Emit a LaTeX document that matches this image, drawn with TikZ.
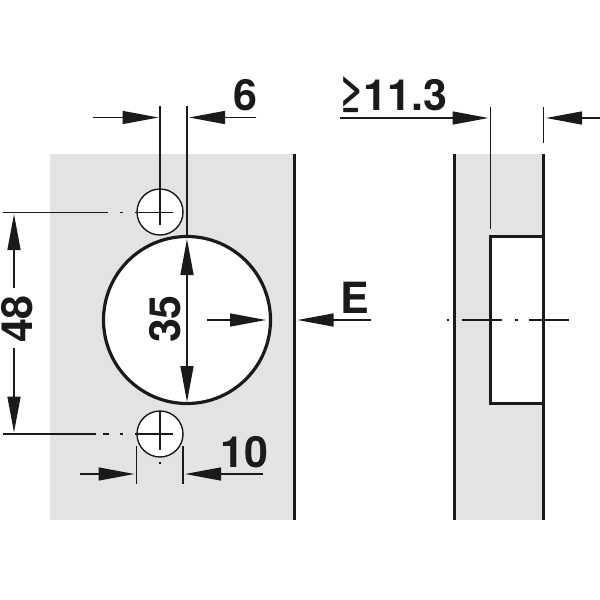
\documentclass[tikz,border=0pt]{standalone}
\usepackage{fontspec}
\setmainfont{TeX Gyre Heros}
\usetikzlibrary{arrows.meta}
\definecolor{plategray}{HTML}{E1E3E5}
\definecolor{inkblack}{HTML}{1A1A1A}

\begin{document}
\begin{tikzpicture}[x=0.5pt,y=-0.5pt,>={Triangle[length=18pt,width=6.5pt]},
                    color=inkblack,line width=0.7pt]
  \tikzset{
    wall/.style={line width=1.6pt},
    cup/.style={line width=1.3pt},
    dimline/.style={->},
    dimtext/.style={font=\bfseries\fontsize{21.5}{24}\selectfont,inner sep=0pt}
  }
  \useasboundingbox (0,0) rectangle (600,600);

  % plates
  \fill[plategray] (50,154) rectangle (294,520);
  \fill[plategray] (454,154) rectangle (544,520);
  \fill[white] (491,236) rectangle (544,403);

  % holes
  \draw[wall,fill=white] (187,320) circle (83.5);
  \node[draw,circle,fill=white,minimum size=23pt,inner sep=0pt] (holeA) at (160,212) {};
  \node[draw,circle,fill=white,minimum size=23pt,inner sep=0pt] (holeB) at (160,434) {};

  % front view
  \coordinate (edgeT) at (294.5,154);
  \coordinate (edgeB) at (294.5,520);
  \draw[wall] (edgeT) -- (edgeB);

  % side view
  \coordinate (sideLT) at (454.5,154);
  \coordinate (sideLB) at (454.5,520);
  \coordinate (sideRT) at (543.5,154);
  \coordinate (sideRB) at (543.5,520);
  \draw[wall] (sideLT) -- (sideLB);
  \draw[wall] (sideRT) -- (sideRB);
  \draw[cup] (543.5,236.5) -- (490.7,236.5) -- (490.7,403.5) -- (543.5,403.5);

  % center lines
  \foreach \xa/\xb in {3/108,120/123,135/172.5}
    \draw (\xa,212.5) -- (\xb,212.5);
  \foreach \xa/\xb in {3/96,103/109,120/123,135/172.5}
    \draw (\xa,434) -- (\xb,434);
  \foreach \xa/\xb in {446.5/449,461.7/501.7,514.5/517.5,528.5/569}
    \draw (\xa,320) -- (\xb,320);
  \draw (160,411) -- (160,450);
  \draw (160,461.5) -- (160,464);

  % extension lines
  \draw (160,106) -- (160,225);
  \draw (187,106) -- (187,236);
  \draw (136.5,446) -- (136.5,484);
  \draw (183,446) -- (183,484);
  \draw (490.7,107) -- (490.7,229);
  \draw (543.5,107) -- (543.5,143);

  % dim 6
  \draw[dimline] (93,117.5) -- (158.5,117.5);
  \draw[dimline] (256,117.5) -- (189,117.5);
  \node[dimtext] (labelA) at (245.5,95) {6};

  % dim 48
  \draw[dimline] (14,288) -- (14,214);
  \draw[dimline] (14,348) -- (14,432.5);
  \node[dimtext,rotate=90] (labelB) at (17,319) {48};

  % dim 35
  \draw[dimline] (187,320) -- (187,239);
  \draw[dimline] (187,320) -- (187,402);
  \node[dimtext,rotate=90] (labelC) at (165,319) {35};

  % dim 10
  \draw[dimline] (80,474) -- (134.5,474);
  \draw[dimline] (263,474) -- (185,474);
  \node[dimtext] (labelD) at (244,452) {10};

  % dim E
  \draw[dimline] (207,320) -- (266,320);
  \draw[dimline] (371,320) -- (297.5,320);
  \node[dimtext] (labelE) at (354.5,298) {E};

  % dim 11.3
  \draw[dimline] (340,118) -- (488.5,118);
  \draw[dimline] (600,118) -- (546,118);
  \node[dimtext] (labelF) at (393,95) {≥11.3};
\end{tikzpicture}
\end{document}
